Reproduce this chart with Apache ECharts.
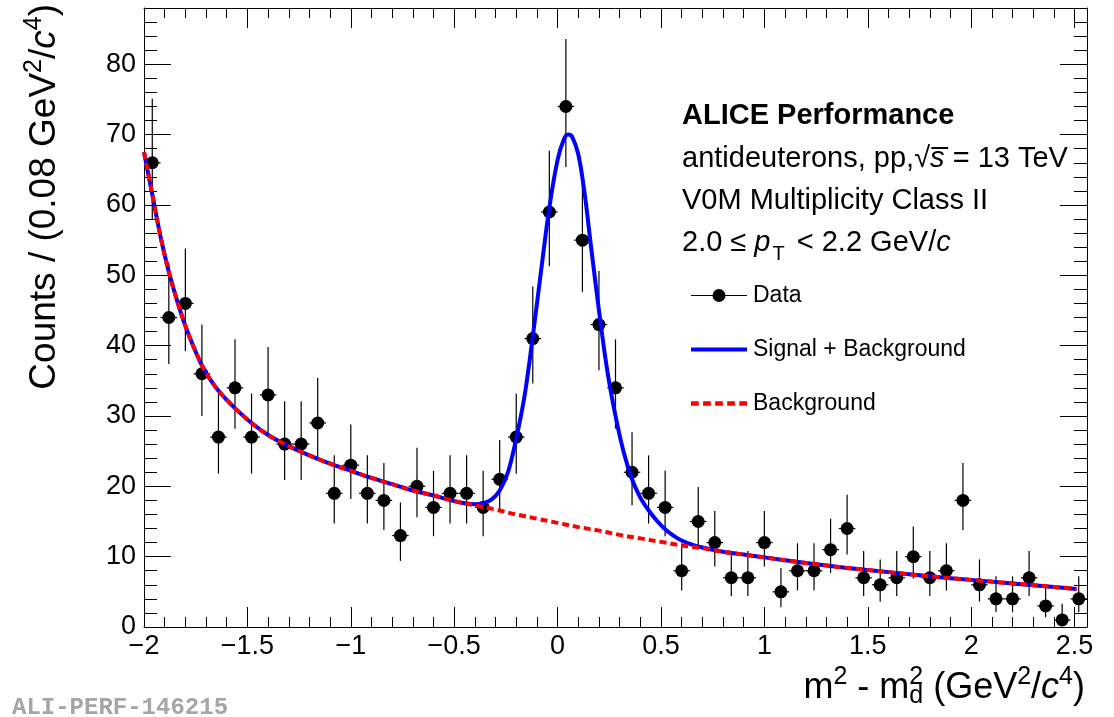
<!DOCTYPE html>
<html>
<head>
<meta charset="utf-8">
<title>antideuterons m2 - md2</title>
<script src="https://cdn.jsdelivr.net/npm/echarts@6/dist/echarts.min.js"></script>
<style>
  html, body { margin: 0; padding: 0; background: #fff; }
  #chart { width: 1114px; height: 717px; }
</style>
</head>
<body>
<div id="chart"></div>
<script>
// histogram: bin centres (0.08 wide) and counts with asymmetric Poisson errors
const binCenters = [-1.96,-1.88,-1.80,-1.72,-1.64,-1.56,-1.48,-1.40,-1.32,-1.24,-1.16,-1.08,-1.00,-0.92,-0.84,-0.76,-0.68,-0.60,-0.52,-0.44,-0.36,-0.28,-0.20,-0.12,-0.04,0.04,0.12,0.20,0.28,0.36,0.44,0.52,0.60,0.68,0.76,0.84,0.92,1.00,1.08,1.16,1.24,1.32,1.40,1.48,1.56,1.64,1.72,1.80,1.88,1.96,2.04,2.12,2.20,2.28,2.36,2.44,2.52];
const counts = [66,44,46,36,27,34,27,33,26,26,29,19,23,19,18,13,20,17,19,19,17,21,27,41,59,74,55,43,34,22,19,17,8,15,12,7,7,12,5,8,8,11,14,7,6,7,10,7,8,18,6,4,4,7,3,1,4];
const errLow = [8.1,6.6,6.8,6.0,5.2,5.8,5.2,5.7,5.1,5.1,5.4,4.3,4.8,4.3,4.2,3.6,4.4,4.1,4.3,4.3,4.1,4.6,5.2,6.4,7.7,8.6,7.4,6.5,5.8,4.7,4.3,4.1,2.8,3.8,3.4,2.6,2.6,3.4,2.2,2.8,2.8,3.3,3.7,2.6,2.4,2.6,3.1,2.6,2.8,4.2,2.4,1.9,1.9,2.6,1.6,0.8,1.9];
const errHigh = [9.1,7.7,7.8,7.0,6.2,6.9,6.2,6.8,6.1,6.1,6.4,5.4,5.8,5.4,5.3,4.7,5.5,5.2,5.4,5.4,5.2,5.6,6.2,7.4,8.7,9.6,8.4,7.6,6.9,5.7,5.4,5.2,3.9,4.9,4.5,3.8,3.8,4.5,3.4,3.9,3.9,4.4,4.8,3.8,3.6,3.8,4.3,3.8,3.9,5.3,3.6,3.2,3.2,3.8,2.9,2.3,3.2];
const binHalfWidth = 0.04;

// background fit curve
const bgX = [-2.00,-1.96,-1.92,-1.88,-1.84,-1.80,-1.76,-1.72,-1.68,-1.64,-1.60,-1.56,-1.48,-1.40,-1.32,-1.24,-1.16,-1.08,-1.00,-0.90,-0.80,-0.70,-0.60,-0.50,-0.40,-0.30,-0.20,-0.10,0.00,0.10,0.20,0.30,0.40,0.50,0.60,0.70,0.80,0.90,1.00,1.20,1.40,1.60,1.80,2.00,2.20,2.40,2.51];
const bgY = [67.5,61.5,55.5,50.5,46.4,42.8,39.8,37.2,35.2,33.6,32.3,31.1,29.0,27.3,26.0,24.9,23.9,23.0,22.2,21.2,20.3,19.4,18.7,17.9,17.3,16.7,16.0,15.4,14.8,14.2,13.7,13.1,12.6,12.1,11.6,11.2,10.7,10.3,9.9,9.1,8.4,7.8,7.2,6.7,6.2,5.7,5.4];

// signal + background fit curve
const fitX = [-2.00,-1.96,-1.92,-1.88,-1.84,-1.80,-1.76,-1.72,-1.68,-1.64,-1.60,-1.56,-1.48,-1.40,-1.32,-1.24,-1.16,-1.08,-1.00,-0.90,-0.80,-0.70,-0.60,-0.50,-0.44,-0.40,-0.36,-0.32,-0.28,-0.24,-0.20,-0.16,-0.12,-0.08,-0.04,0.00,0.03,0.05,0.07,0.10,0.13,0.16,0.20,0.24,0.28,0.32,0.36,0.40,0.44,0.48,0.52,0.56,0.60,0.65,0.70,0.80,0.90,1.00,1.20,1.40,1.60,1.80,2.00,2.20,2.40,2.51];
const fitY = [67.5,61.5,55.5,50.5,46.4,42.8,39.8,37.2,35.2,33.6,32.3,31.1,29.0,27.3,26.0,24.9,23.9,23.0,22.2,21.2,20.3,19.4,18.7,17.9,17.55,17.45,17.6,18.1,19.4,22.0,26.8,32.8,41.3,50.6,59.6,66.4,69.3,70.0,69.7,67.2,61.8,54.5,45.0,36.5,30.0,24.8,21.0,18.4,16.6,15.1,13.9,13.0,12.3,11.7,11.3,10.7,10.3,9.9,9.1,8.4,7.8,7.2,6.7,6.2,5.7,5.4];

const xRange = [-2, 2.56];
const yRange = [0, 88];

const FONT = '"Liberation Sans", Arial, Helvetica, sans-serif';

const chart = echarts.init(document.getElementById('chart'), null, { renderer: 'canvas' });

const minusFmt = v => (v < 0 ? '\u2212' + Math.abs(+v.toFixed(2)) : String(+v.toFixed(2)));

const black = { color: '#000', width: 1 };

function makeX(position, interval, tickLen, labels, line) {
  return {
    type: 'value', position: position, min: xRange[0], max: xRange[1], interval: interval,
    axisLine: { show: line, onZero: false, lineStyle: black },
    axisTick: { show: true, inside: true, length: tickLen, lineStyle: black },
    axisLabel: labels ? {
      show: true, color: '#000', fontSize: 27, fontFamily: FONT, margin: 6,
      showMaxLabel: false, formatter: minusFmt
    } : { show: false },
    splitLine: { show: false }
  };
}
function makeY(position, interval, tickLen, labels, line) {
  return {
    type: 'value', position: position, min: yRange[0], max: yRange[1], interval: interval,
    axisLine: { show: line, onZero: false, lineStyle: black },
    axisTick: { show: true, inside: true, length: tickLen, lineStyle: black },
    axisLabel: labels ? {
      show: true, color: '#000', fontSize: 27, fontFamily: FONT, margin: 8,
      showMaxLabel: false
    } : { show: false },
    splitLine: { show: false }
  };
}

const supSmall = { fontSize: 25, padding: [0, 0, 22, 0] };
const subSmall = { fontSize: 25, padding: [16, 0, 0, 0] };

// legend icons
const dataIcon = 'path://M0,6.4h56v1.2h-56z M21.5,7a6.5,6.5 0 1,1 13,0a6.5,6.5 0 1,1 -13,0z';
const solidIcon = 'path://M0,5h56v4h-56z';
const dashIcon = 'path://M0,5h7v4h-7z M11,5h7v4h-7z M22,5h7v4h-7z M33,5h7v4h-7z M44,5h7v4h-7z';

const option = {
  backgroundColor: '#fff',
  animation: false,
  textStyle: { fontFamily: FONT },
  grid: { left: 144, right: 27, top: 8, bottom: 90, containLabel: false },
  xAxis: [
    makeX('bottom', 0.5, 20, true, true),
    makeX('bottom', 0.1, 10, false, false),
    makeX('top', 0.5, 20, false, true),
    makeX('top', 0.1, 10, false, false)
  ],
  yAxis: [
    makeY('left', 10, 27, true, true),
    makeY('left', 2, 13, false, false),
    makeY('right', 10, 27, false, true),
    makeY('right', 2, 13, false, false)
  ],
  legend: {
    orient: 'vertical', left: 686, top: 279,
    itemWidth: 56, itemHeight: 14, itemGap: 31,
    selectedMode: false,
    textStyle: { fontSize: 23, fontFamily: FONT, color: '#000', lineHeight: 14, padding: [0, 0, 0, 1] },
    data: [
      { name: 'Data', icon: dataIcon },
      { name: 'Signal + Background', icon: solidIcon },
      { name: 'Background', icon: dashIcon }
    ]
  },
  graphic: [
    { type: 'text', x: 682, y: 116, style: { text: 'ALICE Performance', fontSize: 29, fontWeight: 'bold', fontFamily: FONT, fill: '#000', verticalAlign: 'middle' } },
    { type: 'text', x: 682, y: 159, style: {
      text: 'antideuterons, pp,\u221A{it|s\u0305} = 13 TeV', fontSize: 29, fontFamily: FONT, fill: '#000', verticalAlign: 'middle',
      rich: { it: { fontSize: 29, fontStyle: 'italic', fontFamily: FONT } } } },
    { type: 'text', x: 682, y: 201, style: { text: 'V0M Multiplicity Class II', fontSize: 29, fontFamily: FONT, fill: '#000', verticalAlign: 'middle' } },
    { type: 'text', x: 682, y: 243, style: {
      text: '2.0 \u2264 {it|p}{sub|T} < 2.2 GeV/{it|c}', fontSize: 29, fontFamily: FONT, fill: '#000', verticalAlign: 'middle',
      rich: {
        it: { fontSize: 29, fontStyle: 'italic', fontFamily: FONT },
        sub: { fontSize: 20, fontFamily: FONT, padding: [22, 4, 0, 2] }
      } } },
    { type: 'text', x: 1085, y: 688, style: {
      // "st" has no width, so its 2 sits right above the subscript d
      text: 'm{sup|2} - m{sub|d}{st|2} (GeV{sup|2}/{it|c}{sup|4})', fontSize: 36, fontFamily: FONT, fill: '#000',
      align: 'right', verticalAlign: 'middle',
      rich: {
        sup: Object.assign({ fontFamily: FONT }, supSmall),
        st: Object.assign({ fontFamily: FONT, width: 0 }, supSmall),
        sub: Object.assign({ fontFamily: FONT }, subSmall),
        it: { fontSize: 36, fontStyle: 'italic', fontFamily: FONT }
      } } },
    { type: 'text', x: 45, y: 4, rotation: Math.PI / 2, style: {
      text: 'Counts / (0.08 GeV{sup|2}/{it|c}{sup|4})', fontSize: 37, fontFamily: FONT, fill: '#000',
      align: 'right', verticalAlign: 'middle',
      rich: {
        sup: Object.assign({ fontFamily: FONT }, supSmall),
        it: { fontSize: 37, fontStyle: 'italic', fontFamily: FONT }
      } } },
    { type: 'text', x: 12, y: 708, style: { text: 'ALI-PERF-146215', fontSize: 24, fontWeight: 'bold', fontFamily: '"Liberation Mono", "DejaVu Sans Mono", monospace', fill: '#a6a6a6', verticalAlign: 'middle' } }
  ],
  series: [
    {
      name: 'Data errors', type: 'custom', xAxisIndex: 0, yAxisIndex: 0, z: 2,
      data: binCenters.map((x, i) => [x, counts[i], errLow[i], errHigh[i]]),
      encode: { x: 0, y: 1 },
      renderItem: function (params, api) {
        const x = api.value(0), y = api.value(1);
        const lo = api.coord([x, y - api.value(2)]);
        const hi = api.coord([x, y + api.value(3)]);
        const l = api.coord([x - binHalfWidth, y]);
        const r = api.coord([x + binHalfWidth, y]);
        const st = { stroke: '#000', lineWidth: 1.2 };
        return {
          type: 'group',
          children: [
            { type: 'line', shape: { x1: lo[0], y1: lo[1], x2: hi[0], y2: hi[1] }, style: st },
            { type: 'line', shape: { x1: l[0], y1: l[1], x2: r[0], y2: r[1] }, style: st }
          ]
        };
      }
    },
    {
      name: 'Data', type: 'scatter', xAxisIndex: 0, yAxisIndex: 0, z: 3,
      symbol: 'circle', symbolSize: 13,
      itemStyle: { color: '#000', opacity: 1 },
      data: binCenters.map((x, i) => [x, counts[i]])
    },
    {
      name: 'Signal + Background', type: 'line', xAxisIndex: 0, yAxisIndex: 0, z: 4,
      symbol: 'none', smooth: 0.35,
      lineStyle: { color: '#0000ff', width: 4 },
      itemStyle: { color: '#0000ff' },
      data: fitX.map((x, i) => [x, fitY[i]])
    },
    {
      name: 'Background', type: 'line', xAxisIndex: 0, yAxisIndex: 0, z: 5,
      symbol: 'none', smooth: 0.35,
      lineStyle: { color: '#ff0000', width: 4, type: [7, 4] },
      itemStyle: { color: '#ff0000' },
      data: bgX.map((x, i) => [x, bgY[i]])
    }
  ]
};

chart.setOption(option);
window.addEventListener('resize', () => chart.resize());
</script>
</body>
</html>
